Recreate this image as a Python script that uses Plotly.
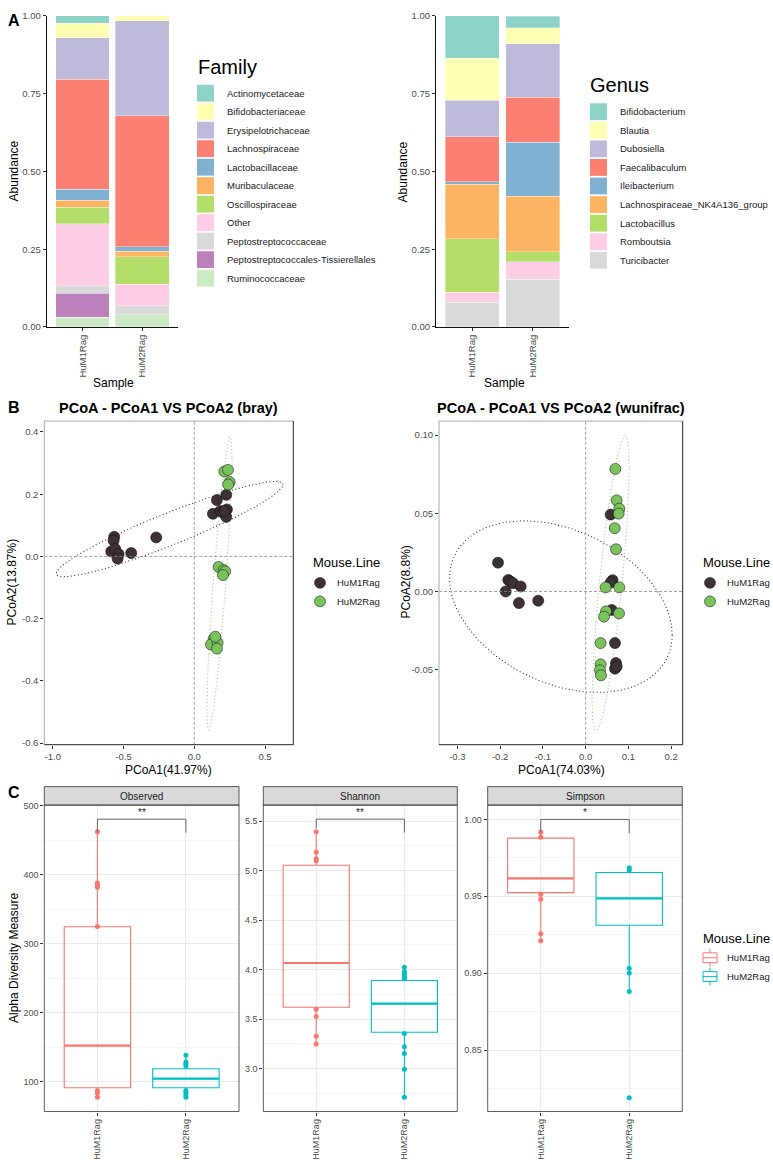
import numpy as np
import plotly.graph_objects as go

W, H = 773, 1171
FONT = "Liberation Sans, Arial, sans-serif"


def X(px):
    return px / W


def Y(py):
    return 1 - py / H


# ---------------- DATA ----------------
samples = ["HuM1Rag", "HuM2Rag"]

family_names = ["Actinomycetaceae", "Bifidobacteriaceae", "Erysipelotrichaceae", "Lachnospiraceae",
                "Lactobacillaceae", "Muribaculaceae", "Oscillospiraceae", "Other",
                "Peptostreptococcaceae", "Peptostreptococcales-Tissierellales", "Ruminococcaceae"]
family_hum1 = [0.023, 0.048, 0.133, 0.353, 0.035, 0.023, 0.053, 0.200, 0.024, 0.076, 0.032]
family_hum2 = [0.000, 0.016, 0.305, 0.421, 0.014, 0.019, 0.088, 0.069, 0.029, 0.000, 0.039]

genus_names = ["Bifidobacterium", "Blautia", "Dubosiella", "Faecalibaculum", "Ileibacterium",
               "Lachnospiraceae_NK4A136_group", "Lactobacillus", "Romboutsia", "Turicibacter"]
genus_hum1 = [0.136, 0.135, 0.117, 0.145, 0.008, 0.175, 0.173, 0.032, 0.079]
genus_hum2 = [0.037, 0.051, 0.172, 0.145, 0.173, 0.180, 0.032, 0.055, 0.154]

set3 = ["#8DD3C7", "#FFFFB3", "#BEBADA", "#FB8072", "#80B1D3", "#FDB462",
        "#B3DE69", "#FCCDE5", "#D9D9D9", "#BC80BD", "#CCEBC5"]

# PCoA (bray)
bray_hum1_x = [-0.566, -0.570, -0.587, -0.559, -0.535, -0.542, -0.446, -0.269,
               0.160, 0.226, 0.132, 0.184, 0.231, 0.203, 0.226, 0.215]
bray_hum1_y = [0.063, 0.051, 0.016, 0.024, 0.008, -0.007, 0.011, 0.061,
               0.181, 0.198, 0.137, 0.146, 0.151, 0.141, 0.127, 0.146]
bray_hum2_x = [0.212, 0.238, 0.250, 0.240, 0.172, 0.207, 0.219, 0.203,
               0.137, 0.118, 0.165, 0.160, 0.149]
bray_hum2_y = [0.273, 0.278, 0.239, 0.231, -0.034, -0.044, -0.048, -0.060,
               -0.265, -0.283, -0.277, -0.296, -0.258]

# PCoA (wunifrac)
wuni_hum1_x = [-0.205, -0.181, -0.176, -0.170, -0.152, -0.187, -0.156, -0.111,
               0.0585, 0.063, 0.0585, 0.061, 0.0686, 0.071, 0.0686, 0.0726]
wuni_hum1_y = [0.0184, 0.0074, 0.0064, 0.0053, 0.0032, 0.0000, -0.0074, -0.0059,
               0.0492, 0.0072, 0.0057, -0.0118, -0.0330, -0.0458, -0.0494, -0.0480]
wuni_hum2_x = [0.0694, 0.0725, 0.0788, 0.0772, 0.0679, 0.0710, 0.0468, 0.0788,
               0.0476, 0.0429, 0.0780, 0.0350, 0.0350, 0.0335, 0.0358]
wuni_hum2_y = [0.0784, 0.0583, 0.0530, 0.0498, 0.0405, 0.0270, 0.0026, 0.0026,
               -0.0127, -0.0161, -0.0140, -0.0330, -0.0466, -0.0504, -0.0536]

# 95% ellipses: centre, x/y half-extent, correlation
# order: bray HuM1Rag, bray HuM2Rag, wunifrac HuM1Rag, wunifrac HuM2Rag
ell_cx = [-0.174, 0.178, -0.058, 0.0585]
ell_cy = [0.088, -0.087, -0.0097, 0.0052]
ell_sx = [0.8016, 0.0889, 0.2604, 0.0436]
ell_sy = [0.1533, 0.471, 0.0549, 0.0942]
ell_rho = [0.932, 0.863, -0.33, 0.788]

# Alpha diversity: box stats per measure [HuM1Rag, HuM2Rag]
measures = ["Observed", "Shannon", "Simpson"]
box_q1 = [[91.4, 91.4], [3.62, 3.367], [0.9524, 0.9312]]
box_median = [[152.6, 104.7], [4.067, 3.657], [0.9616, 0.9486]]
box_q3 = [[324.8, 119.0], [5.054, 3.890], [0.9878, 0.9655]]
box_low = [[77.5, 77.5], [3.25, 2.71], [0.921, 0.888]]
box_high = [[462.5, 138.7], [5.394, 4.024], [0.9916, 0.9685]]
pts_hum1 = [[462.5, 388, 385, 382, 325, 87, 84, 77.5],
            [5.394, 5.187, 5.12, 5.10, 3.60, 3.527, 3.327, 3.25],
            [0.9916, 0.9884, 0.9513, 0.9481, 0.9256, 0.921]]
pts_hum2 = [[138.7, 128.7, 126, 123, 87.5, 84.7, 81, 77.5],
            [4.024, 3.98, 3.954, 3.927, 3.907, 3.354, 3.22, 3.154, 2.994, 2.71],
            [0.9685, 0.967, 0.9032, 0.9001, 0.888, 0.819]]
sig_labels = ["**", "**", "*"]
sig_top = [480.6, 5.52, 1.000]
sig_tip1 = [462.5, 5.427, 0.9923]
sig_tip2 = [461.0, 5.384, 0.991]
alpha_ranges = [[57, 501], [2.567, 5.662], [0.810, 1.0093]]
alpha_ticks = [[100, 200, 300, 400, 500], [3.0, 3.5, 4.0, 4.5, 5.0, 5.5], [0.85, 0.90, 0.95, 1.00]]
alpha_ticktext = [["100", "200", "300", "400", "500"],
                  ["3.0", "3.5", "4.0", "4.5", "5.0", "5.5"],
                  ["0.85", "0.90", "0.95", "1.00"]]
alpha_minor = [50, 0.25, 0.025]

red, teal = "#F8766D", "#00BFC4"
dark_pt, green_pt = "#3C3135", "#78C35C"
dark_ell, green_ell = "#3C3135", "#9DCB7F"
BOXW = 0.75


def ellipse(cx, cy, sx, sy, rho, segments=120):
    S = np.array([[sx * sx, rho * sx * sy], [rho * sx * sy, sy * sy]])
    R = np.linalg.cholesky(S).T
    ang = np.linspace(0, 2 * np.pi, segments + 1)
    circ = np.column_stack([np.cos(ang), np.sin(ang)])
    e = np.array([cx, cy]) + circ @ R
    return e[:, 0], e[:, 1]


fig = go.Figure()

# ---------------- Panel A ----------------
for names, v1, v2, xa, ya in [(family_names, family_hum1, family_hum2, "x", "y"),
                              (genus_names, genus_hum1, genus_hum2, "x2", "y2")]:
    for i in reversed(range(len(names))):
        fig.add_trace(go.Bar(x=[0, 1], y=[v1[i], v2[i]], width=0.9, name=names[i],
                             marker=dict(color=set3[i], line=dict(color="rgba(255,255,255,0.7)", width=0.5)),
                             xaxis=xa, yaxis=ya, showlegend=False, hoverinfo="skip"))

# ---------------- Panel B ----------------
groups = [(bray_hum1_x, bray_hum1_y, bray_hum2_x, bray_hum2_y, "x3", "y3"),
          (wuni_hum1_x, wuni_hum1_y, wuni_hum2_x, wuni_hum2_y, "x4", "y4")]
for p, (h1x, h1y, h2x, h2y, xa, ya) in enumerate(groups):
    for j, col in [(2 * p, dark_ell), (2 * p + 1, green_ell)]:
        ex, ey = ellipse(ell_cx[j], ell_cy[j], ell_sx[j], ell_sy[j], ell_rho[j])
        fig.add_trace(go.Scatter(x=ex, y=ey, mode="lines", line=dict(color=col, width=1.1, dash="1px,2.5px"),
                                 xaxis=xa, yaxis=ya, showlegend=False, hoverinfo="skip"))
    fig.add_trace(go.Scatter(x=h1x, y=h1y, mode="markers",
                             marker=dict(size=11, color=dark_pt, line=dict(color="#111", width=0.6)),
                             xaxis=xa, yaxis=ya, showlegend=False))
    fig.add_trace(go.Scatter(x=h2x, y=h2y, mode="markers",
                             marker=dict(size=11, color=green_pt, line=dict(color="#222", width=0.6)),
                             xaxis=xa, yaxis=ya, showlegend=False))

# ---------------- Panel C ----------------
for k in range(3):
    xa, ya = "x%d" % (5 + k), "y%d" % (5 + k)
    for g, col, pts in [(0, red, pts_hum1), (1, teal, pts_hum2)]:
        fig.add_trace(go.Box(x=[g], q1=[box_q1[k][g]], median=[box_median[k][g]], q3=[box_q3[k][g]],
                             lowerfence=[box_low[k][g]], upperfence=[box_high[k][g]],
                             width=BOXW, whiskerwidth=0, fillcolor="rgba(255,255,255,0)",
                             line=dict(color=col, width=1.1), boxpoints=False,
                             xaxis=xa, yaxis=ya, showlegend=False, hoverinfo="skip"))
        fig.add_trace(go.Scatter(x=[g - BOXW / 2, g + BOXW / 2], y=[box_median[k][g]] * 2, mode="lines",
                                 line=dict(color=col, width=2.2), xaxis=xa, yaxis=ya,
                                 showlegend=False, hoverinfo="skip"))
        fig.add_trace(go.Scatter(x=[g] * len(pts[k]), y=pts[k], mode="markers",
                                 marker=dict(size=5, color=col), xaxis=xa, yaxis=ya, showlegend=False))
    fig.add_trace(go.Scatter(x=[0, 0, 1, 1], y=[sig_tip1[k], sig_top[k], sig_top[k], sig_tip2[k]],
                             mode="lines", line=dict(color="#555", width=0.9),
                             xaxis=xa, yaxis=ya, showlegend=False, hoverinfo="skip"))
    fig.add_annotation(x=0.5, y=sig_top[k], xref=xa, yref=ya, text=sig_labels[k], showarrow=False,
                       yshift=7, font=dict(size=10, color="#222", family=FONT))

# ---------------- Axes ----------------
tickfont = dict(size=9.5, color="#4D4D4D", family=FONT)
common = dict(showgrid=False, zeroline=False, ticks="outside", ticklen=3, tickcolor="#333",
              tickfont=tickfont)
layout = {}
for i, (x0, x1) in enumerate([(46.7, 178), (436, 569)]):
    xn, yn = ("xaxis", "yaxis") if i == 0 else ("xaxis2", "yaxis2")
    layout[xn] = dict(common, domain=[X(x0), X(x1)], range=[-0.6, 1.6], tickvals=[0, 1], ticktext=samples,
                      tickangle=-90, showline=True, linecolor="#111", linewidth=1,
                      anchor="y" if i == 0 else "y2")
    layout[yn] = dict(common, domain=[Y(324), Y(10)], range=[0, 1],
                      tickvals=[0, 0.25, 0.5, 0.75, 1], ticktext=["0.00", "0.25", "0.50", "0.75", "1.00"],
                      showline=True, linecolor="#111", linewidth=1, anchor="x" if i == 0 else "x2")
layout["xaxis3"] = dict(common, domain=[X(44.3), X(293.3)], range=[-1.06, 0.70], anchor="y3",
                        tickvals=[-1, -0.5, 0, 0.5], ticktext=["-1.0", "-0.5", "0.0", "0.5"])
layout["yaxis3"] = dict(common, domain=[Y(745.7), Y(419)], range=[-0.605, 0.435], anchor="x3",
                        tickvals=[-0.6, -0.4, -0.2, 0, 0.2, 0.4],
                        ticktext=["-0.6", "-0.4", "-0.2", "0.0", "0.2", "0.4"])
layout["xaxis4"] = dict(common, domain=[X(439), X(682.7)], range=[-0.343, 0.227], anchor="y4",
                        tickvals=[-0.3, -0.2, -0.1, 0, 0.1, 0.2],
                        ticktext=["-0.3", "-0.2", "-0.1", "0.0", "0.1", "0.2"])
layout["yaxis4"] = dict(common, domain=[Y(745.7), Y(419)], range=[-0.098, 0.109], anchor="x4",
                        tickvals=[-0.05, 0, 0.05, 0.10], ticktext=["-0.05", "0.00", "0.05", "0.10"])
c_panels = [(44.3, 239), (263.3, 457.3), (487.7, 682.3)]
for k, (x0, x1) in enumerate(c_panels):
    layout["xaxis%d" % (5 + k)] = dict(common, domain=[X(x0), X(x1)], range=[-0.6, 1.6], anchor="y%d" % (5 + k),
                                       tickvals=[0, 1], ticktext=samples, tickangle=-90,
                                       showgrid=True, gridcolor="#EBEBEB", gridwidth=1,
                                       tickfont=dict(size=9, color="#4D4D4D", family=FONT))
    layout["yaxis%d" % (5 + k)] = dict(common, domain=[Y(1116), Y(806.7)], range=alpha_ranges[k],
                                       anchor="x%d" % (5 + k), tickvals=alpha_ticks[k],
                                       ticktext=alpha_ticktext[k], showgrid=True, gridcolor="#EBEBEB",
                                       gridwidth=1,
                                       minor=dict(dtick=alpha_minor[k], showgrid=True, gridcolor="#F5F5F5",
                                                  ticks=""),
                                       tickfont=dict(size=9, color="#4D4D4D", family=FONT))

shapes = []
annotations = []


def txt(x, y, s, size=10, color="#1A1A1A", xanchor="left", bold=False, angle=0):
    annotations.append(dict(x=X(x), y=Y(y), xref="paper", yref="paper", text="<b>%s</b>" % s if bold else s,
                            showarrow=False, xanchor=xanchor, yanchor="middle", textangle=angle,
                            font=dict(size=size, color=color, family=FONT)))


LEG = 9.5
txt(6, 15, "A", 16, "#000", bold=True)
txt(6, 405, "B", 16, "#000", bold=True)
txt(6, 794, "C", 16, "#000", bold=True)

txt(14, 167, "Abundance", 12, "#000", "center", angle=-90)
txt(403, 167, "Abundance", 12, "#000", "center", angle=-90)
txt(113, 381, "Sample", 12, "#000", "center")
txt(504, 381, "Sample", 12, "#000", "center")

txt(196, 62, "Family", 20, "#000")
for i, nm in enumerate(family_names):
    cy = 88 + i * 18.67
    shapes.append(dict(type="rect", xref="paper", yref="paper", x0=X(197), x1=X(214), y0=Y(cy + 8.5),
                       y1=Y(cy - 8.5), fillcolor=set3[i], line=dict(width=0)))
    txt(225, cy, nm, LEG)
txt(588, 80, "Genus", 20, "#000")
for i, nm in enumerate(genus_names):
    cy = 106.7 + i * 18.75
    shapes.append(dict(type="rect", xref="paper", yref="paper", x0=X(590), x1=X(607), y0=Y(cy + 8.5),
                       y1=Y(cy - 8.5), fillcolor=set3[i], line=dict(width=0)))
    txt(618, cy, nm, LEG)

txt(168, 406, "PCoA - PCoA1 VS PCoA2 (bray)", 14.5, "#000", "center", bold=True)
txt(561, 406, "PCoA - PCoA1 VS PCoA2 (wunifrac)", 14.5, "#000", "center", bold=True)
txt(168, 771, "PCoA1(41.97%)", 12, "#000", "center")
txt(561, 771, "PCoA1(74.03%)", 12, "#000", "center")
txt(12, 582, "PCoA2(13.87%)", 12, "#000", "center", angle=-90)
txt(406, 582, "PCoA2(8.8%)", 12, "#000", "center", angle=-90)
for (x0, x1, xa, ya) in [(44.3, 293.3, "x3", "y3"), (439, 682.7, "x4", "y4")]:
    shapes.append(dict(type="line", xref=xa, yref=ya + " domain", x0=0, x1=0, y0=0, y1=1,
                       line=dict(color="#8A8A8A", width=0.8, dash="3px,2px")))
    shapes.append(dict(type="line", xref=xa + " domain", yref=ya, x0=0, x1=1, y0=0, y1=0,
                       line=dict(color="#8A8A8A", width=0.8, dash="3px,2px")))
    shapes.append(dict(type="line", xref="paper", yref="paper", x0=X(x0), x1=X(x1), y0=Y(419), y1=Y(419),
                       line=dict(color="#A8A8A8", width=1)))
    shapes.append(dict(type="line", xref="paper", yref="paper", x0=X(x0), x1=X(x0), y0=Y(419), y1=Y(745.7),
                       line=dict(color="#A8A8A8", width=1)))
    shapes.append(dict(type="line", xref="paper", yref="paper", x0=X(x1), x1=X(x1), y0=Y(419), y1=Y(745.7),
                       line=dict(color="#222", width=1)))
    shapes.append(dict(type="line", xref="paper", yref="paper", x0=X(x0), x1=X(x1), y0=Y(745.7), y1=Y(745.7),
                       line=dict(color="#222", width=1)))
for lx in [310.5, 700.5]:
    txt(lx, 562, "Mouse.Line", 13, "#000")
    for j, (col, lab) in enumerate([(dark_pt, samples[0]), (green_pt, samples[1])]):
        cy = 582.3 + j * 18.7
        shapes.append(dict(type="circle", xref="paper", yref="paper", x0=X(lx + 4), x1=X(lx + 15),
                           y0=Y(cy + 5.5), y1=Y(cy - 5.5), fillcolor=col, line=dict(color="#222", width=0.6)))
        txt(lx + 24.5, cy, lab, LEG)

txt(14, 961, "Alpha Diversity Measure", 12, "#000", "center", angle=-90)
for k, (x0, x1) in enumerate(c_panels):
    shapes.append(dict(type="rect", xref="paper", yref="paper", x0=X(x0), x1=X(x1), y0=Y(806.7), y1=Y(788),
                       fillcolor="#D9D9D9", line=dict(color="#333", width=0.8)))
    txt((x0 + x1) / 2, 797.5, measures[k], 10, "#1A1A1A", "center")
    shapes.append(dict(type="rect", xref="paper", yref="paper", x0=X(x0), x1=X(x1), y0=Y(1116), y1=Y(806.7),
                       line=dict(color="#333", width=0.8), fillcolor="rgba(0,0,0,0)"))
txt(700.5, 941, "Mouse.Line", 13, "#000")
for j, (col, lab) in enumerate([(red, samples[0]), (teal, samples[1])]):
    cy = 960.8 + j * 19
    shapes.append(dict(type="rect", xref="paper", yref="paper", x0=X(703), x1=X(717), y0=Y(cy + 5),
                       y1=Y(cy - 5), line=dict(color=col, width=1), fillcolor="white"))
    shapes.append(dict(type="line", xref="paper", yref="paper", x0=X(703), x1=X(717), y0=Y(cy), y1=Y(cy),
                       line=dict(color=col, width=1)))
    shapes.append(dict(type="line", xref="paper", yref="paper", x0=X(710), x1=X(710), y0=Y(cy - 5),
                       y1=Y(cy - 9), line=dict(color=col, width=1)))
    shapes.append(dict(type="line", xref="paper", yref="paper", x0=X(710), x1=X(710), y0=Y(cy + 5),
                       y1=Y(cy + 9), line=dict(color=col, width=1)))
    txt(725, cy, lab, LEG)

fig.update_layout(width=W, height=H, margin=dict(l=0, r=0, t=0, b=0), plot_bgcolor="white",
                  paper_bgcolor="white", barmode="stack", showlegend=False,
                  font=dict(family=FONT), shapes=shapes, annotations=list(fig.layout.annotations) + annotations,
                  **layout)
fig.write_html("out.html", config={"displayModeBar": False},
               post_script="document.body.style.margin='0';document.body.style.overflow='hidden';")
